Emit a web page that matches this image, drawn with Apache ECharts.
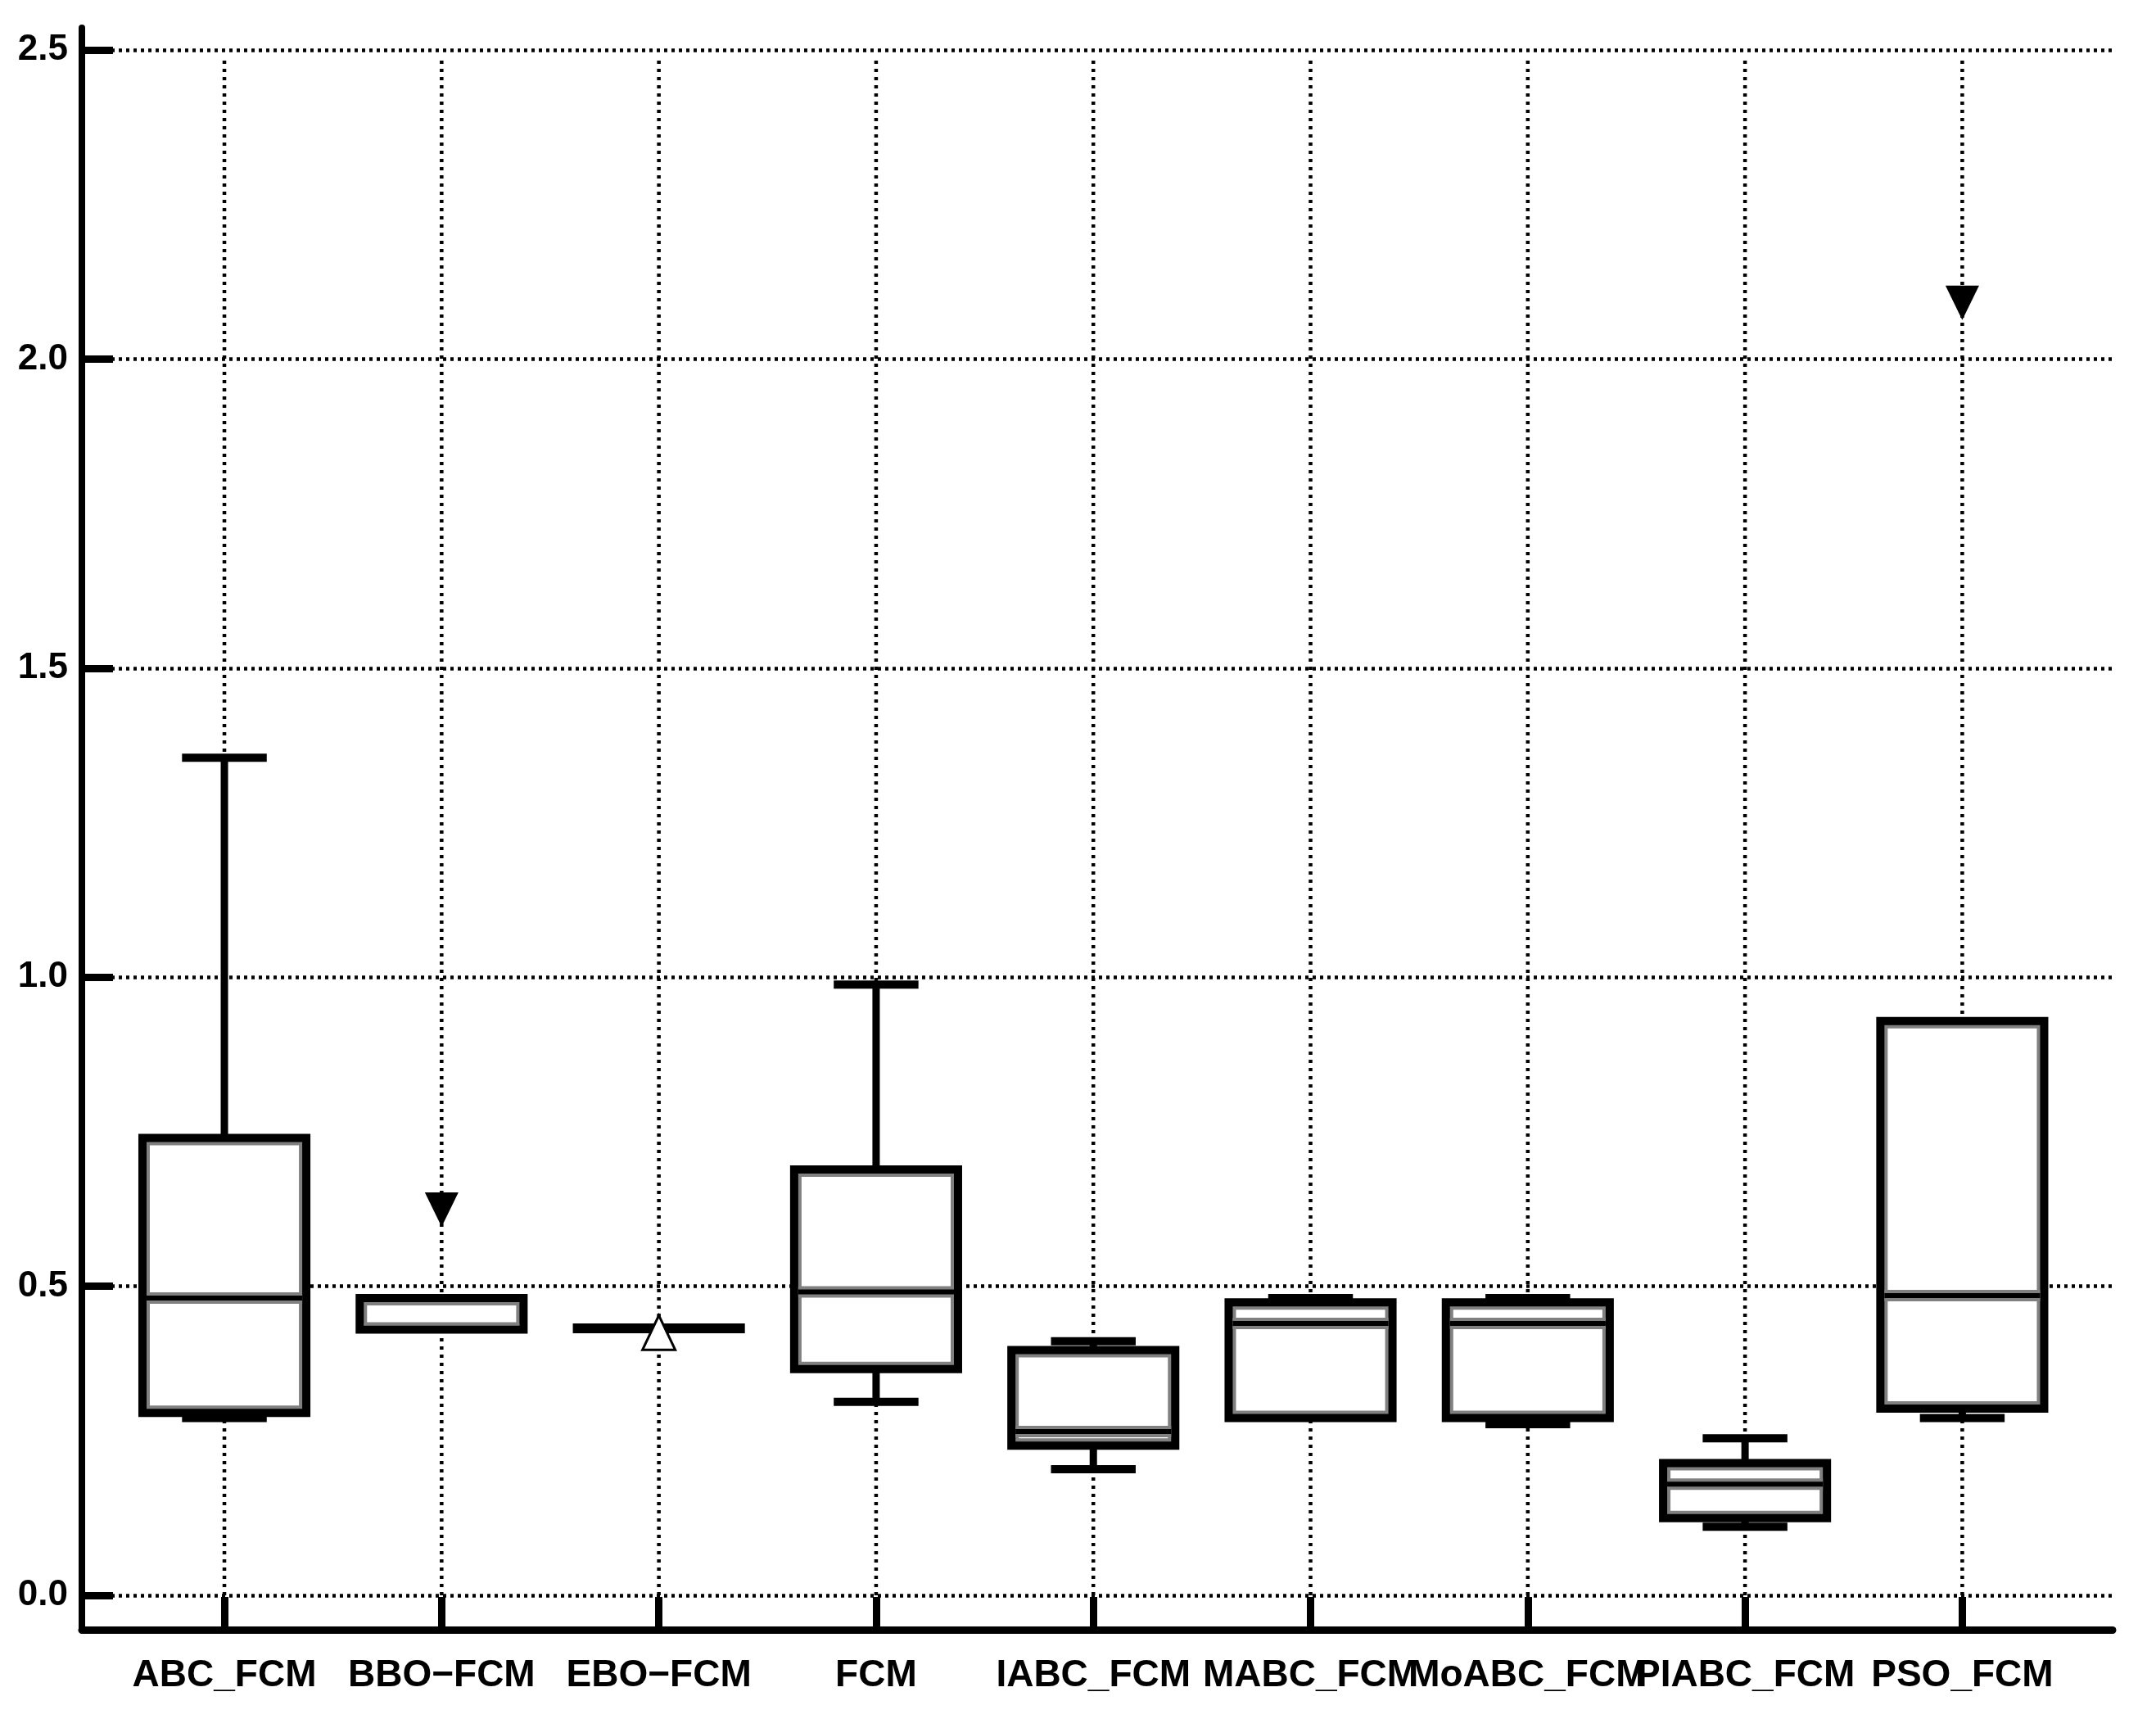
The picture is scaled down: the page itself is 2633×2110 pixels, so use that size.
<!DOCTYPE html>
<html>
<head>
<meta charset="utf-8">
<script src="https://cdn.jsdelivr.net/npm/echarts@6/dist/echarts.min.js"></script>
<style>
html,body{margin:0;padding:0;background:#ffffff;}
#chart{width:2633px;height:2110px;}
</style>
</head>
<body>
<div id="chart"></div>
<script>
// ---- data ----
const categories = ['ABC_FCM','BBO\u2212FCM','EBO\u2212FCM','FCM','IABC_FCM','MABC_FCM','MoABC_FCM','PIABC_FCM','PSO_FCM'];
const whiskerLow  = [0.287, 0.430, 0.432, 0.313, 0.204, 0.287, 0.277, 0.111, 0.287];
const quartile1   = [0.295, 0.430, 0.432, 0.366, 0.242, 0.287, 0.287, 0.125, 0.302];
const medians     = [0.481, 0.430, 0.432, 0.491, 0.265, 0.440, 0.440, 0.180, 0.485];
const quartile3   = [0.740, 0.481, 0.432, 0.689, 0.397, 0.474, 0.474, 0.214, 0.929];
const whiskerHigh = [1.355, 0.481, 0.432, 0.988, 0.411, 0.481, 0.481, 0.254, 0.929];
const outlierCategories = ['BBO\u2212FCM', 'PSO_FCM'];
const outlierValues     = [0.624, 2.091];
const openMarkerCategories = ['EBO\u2212FCM'];
const openMarkerValues     = [0.425];
const yTickValues = [0, 0.5, 1.0, 1.5, 2.0, 2.5];

// ---- derived structures ----
const catPositions = categories.map((c, i) => i + 1);
const boxData = categories.map((c, i) => [i + 1, whiskerLow[i], quartile1[i], medians[i], quartile3[i], whiskerHigh[i]]);
const outlierData = outlierCategories.map((c, i) => [categories.indexOf(c) + 1, outlierValues[i]]);
const openData = openMarkerCategories.map((c, i) => [categories.indexOf(c) + 1, openMarkerValues[i]]);
const yTop = yTickValues[yTickValues.length - 1];

function renderBox(params, api) {
  const x = api.value(0);
  const lo = api.value(1), qa = api.value(2), md = api.value(3), qb = api.value(4), hi = api.value(5);
  const cx = api.coord([x, 0])[0];
  const yZero = api.coord([x, 0])[1];
  const yGridTop = api.coord([x, yTop])[1];
  const unit = api.size([1, 0])[0];
  const halfBox = unit * 0.396;
  const halfCap = unit * 0.195;
  const yLo = api.coord([x, lo])[1];
  const yA = api.coord([x, qa])[1];
  const yM = api.coord([x, md])[1];
  const yB = api.coord([x, qb])[1];
  const yHi = api.coord([x, hi])[1];
  const black = '#000000', grey = '#808080', white = '#ffffff';
  const ch = [];
  // vertical dotted grid line for this category
  ch.push({type: 'line', shape: {x1: cx, y1: yZero, x2: cx, y2: yGridTop + 13},
           style: {stroke: black, lineWidth: 4.5, lineDash: [4, 6]}});
  const whiskW = 9;
  if (hi > qb) {
    ch.push({type: 'rect', shape: {x: cx - whiskW / 2, y: yHi, width: whiskW, height: yB - yHi},
             style: {fill: black}});
    ch.push({type: 'rect', shape: {x: cx - halfCap, y: yHi - 5, width: 2 * halfCap, height: 10},
             style: {fill: black}});
  }
  if (lo < qa) {
    ch.push({type: 'rect', shape: {x: cx - whiskW / 2, y: yA, width: whiskW, height: yLo - yA},
             style: {fill: black}});
    ch.push({type: 'rect', shape: {x: cx - halfCap, y: yLo - 5, width: 2 * halfCap, height: 10},
             style: {fill: black}});
  }
  if (qb > qa) {
    const top = yB - 5, bot = yA + 5;
    ch.push({type: 'rect', shape: {x: cx - halfBox, y: top, width: 2 * halfBox, height: bot - top},
             style: {fill: black}});
    const gTop = top + 10, gBot = bot - 10, gL = cx - halfBox + 10, gR = cx + halfBox - 10;
    if (gBot > gTop) {
      ch.push({type: 'rect', shape: {x: gL, y: gTop, width: gR - gL, height: gBot - gTop},
               style: {fill: grey}});
      const wTop = gTop + 4, wBot = gBot - 4, wL = gL + 4, wR = gR - 4;
      if (wBot > wTop) {
        ch.push({type: 'rect', shape: {x: wL, y: wTop, width: wR - wL, height: wBot - wTop},
                 style: {fill: white}});
      }
      const mgTop = Math.max(yM - 7, gTop), mgBot = Math.min(yM + 7, gBot);
      if (mgBot > mgTop) {
        ch.push({type: 'rect', shape: {x: gL, y: mgTop, width: gR - gL, height: mgBot - mgTop},
                 style: {fill: grey}});
      }
      ch.push({type: 'rect', shape: {x: gL, y: yM - 3, width: gR - gL, height: 6},
               style: {fill: black}});
    }
  } else {
    ch.push({type: 'rect', shape: {x: cx - halfBox, y: yB - 6, width: 2 * halfBox, height: 12},
             style: {fill: black}});
  }
  return {type: 'group', children: ch};
}

const chart = echarts.init(document.getElementById('chart'), null, {renderer: 'canvas'});
chart.setOption({
  animation: false,
  backgroundColor: '#ffffff',
  grid: {left: 100, right: 53, top: 34, bottom: 120, containLabel: false, outerBoundsMode: 'none'},
  xAxis: {
    type: 'value',
    min: 0.344,
    max: 9.692,
    axisLine: {show: true, onZero: false, lineStyle: {color: '#000', width: 9}},
    axisTick: {show: true, inside: true, length: 40, customValues: catPositions,
               lineStyle: {color: '#000', width: 9}},
    axisLabel: {show: true, customValues: catPositions, margin: 33,
                formatter: function (v) { return categories[Math.round(v) - 1] || ''; },
                color: '#000', fontSize: 46, fontWeight: 'bold',
                fontFamily: 'Liberation Sans, Arial, sans-serif'},
    splitLine: {show: false}
  },
  yAxis: {
    type: 'value',
    min: -0.0556,
    max: 2.5358,
    axisLine: {show: true, onZero: false, lineStyle: {color: '#000', width: 8}},
    axisTick: {show: true, inside: true, length: 38, customValues: yTickValues,
               lineStyle: {color: '#000', width: 9}},
    axisLabel: {show: true, customValues: yTickValues, margin: 17,
                formatter: function (v) { return v.toFixed(1); },
                color: '#000', fontSize: 44, fontWeight: 'bold',
                fontFamily: 'Liberation Sans, Arial, sans-serif'},
    splitLine: {show: true, customValues: yTickValues,
                lineStyle: {color: '#000', width: 4.5, type: [4, 5]}}
  },
  series: [
    {
      type: 'custom',
      name: 'box',
      z: 2,
      clip: false,
      renderItem: renderBox,
      encode: {x: 0, y: [1, 2, 3, 4, 5]},
      data: boxData
    },
    {
      type: 'scatter',
      name: 'outliers',
      z: 3,
      symbol: 'triangle',
      symbolRotate: 180,
      symbolSize: [41, 42],
      itemStyle: {color: '#000', opacity: 1},
      data: outlierData
    },
    {
      type: 'scatter',
      name: 'open',
      z: 4,
      symbol: 'triangle',
      symbolSize: [40, 42],
      itemStyle: {color: '#fff', borderColor: '#000', borderWidth: 3, opacity: 1},
      data: openData
    }
  ]
});
</script>
</body>
</html>
